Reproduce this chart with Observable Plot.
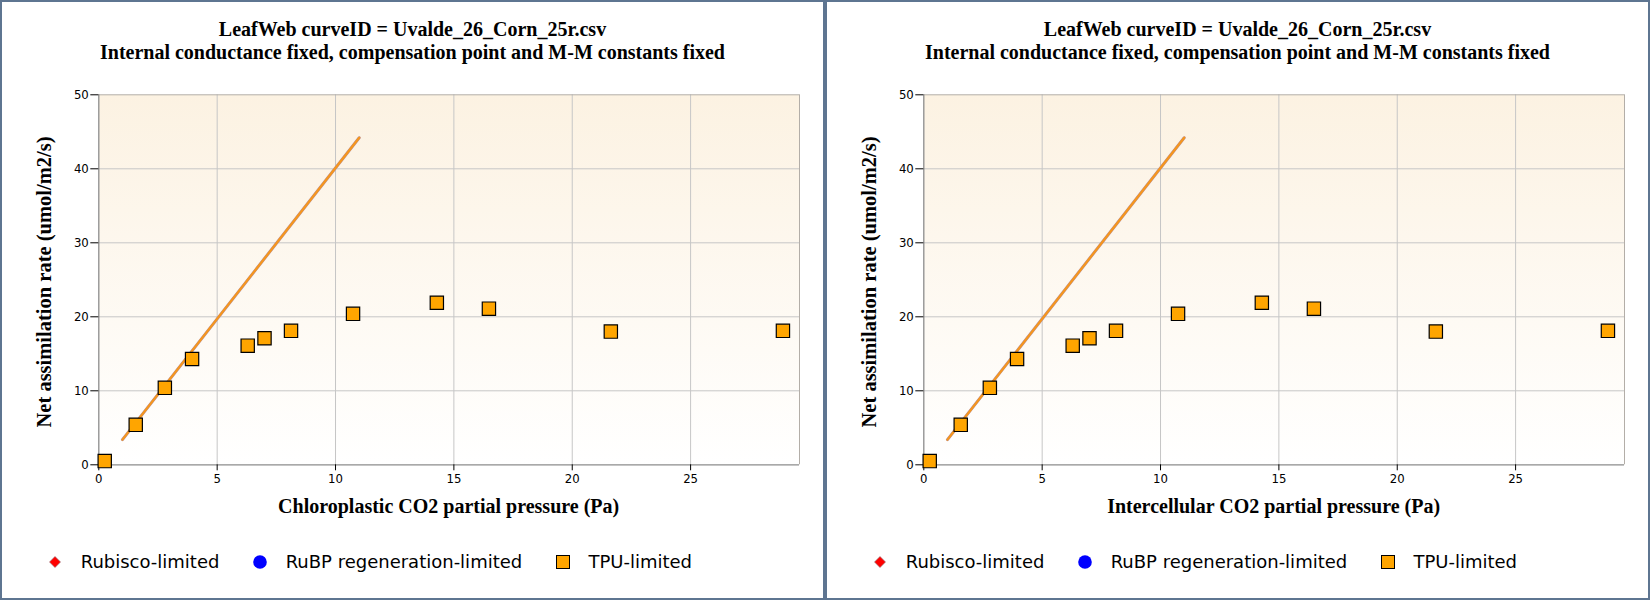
<!DOCTYPE html>
<html><head><meta charset="utf-8">
<script src="https://cdn.jsdelivr.net/npm/d3@7"></script>
<script src="https://cdn.jsdelivr.net/npm/@observablehq/plot@0.6"></script>
<style>
html,body{margin:0;padding:0;background:#fff;}
#wrap{position:relative;width:1650px;height:600px;display:flex;}
.panel{position:relative;width:825px;height:600px;box-sizing:border-box;border:2px solid #5e7591;overflow:hidden;background:#fff;}
.title{position:absolute;left:0;right:0;top:15.5px;text-align:center;font:bold 20px/23px "Liberation Serif",serif;color:#000;}
.xtitle{position:absolute;left:96.3px;width:700.7px;top:492.7px;text-align:center;font:bold 20px/23px "Liberation Serif",serif;color:#000;white-space:nowrap;}
.ytitle{position:absolute;left:42px;top:279.5px;transform:translate(-50%,-50%) rotate(-90deg);white-space:nowrap;font:bold 20.5px/23px "Liberation Serif",serif;color:#000;}
.plotbox{position:absolute;left:0;top:0;}
.legend{position:absolute;top:547.7px;left:46px;display:flex;align-items:center;font:18px/24px "DejaVu Sans",sans-serif;color:#000;white-space:nowrap;}
.legend svg{display:block;flex:none;}
</style>
</head><body>
<div id="wrap"></div>
<script>
// ---- data ----
const ciValues = [0.25, 1.56, 2.79, 3.94, 6.29, 7.0, 8.12, 10.74, 14.28, 16.48, 21.63, 28.9];
const anValues = [0.5, 5.4, 10.4, 14.3, 16.1, 17.1, 18.1, 20.4, 21.9, 21.1, 18.0, 18.1];
const fitX = [1.0, 11.0];
const fitY = [3.4, 44.2];
const xTicks = [0, 5, 10, 15, 20, 25];
const yTicks = [0, 10, 20, 30, 40, 50];
const xGrid = [5, 10, 15, 20, 25];
const yGrid = [10, 20, 30, 40];
const xMax = 29.6, yMax = 50;
const titleLines = ["LeafWeb curveID = Uvalde_26_Corn_25r.csv", "Internal conductance fixed, compensation point and M-M constants fixed"];
const xTitles = ["Chloroplastic CO2 partial pressure (Pa)", "Intercellular CO2 partial pressure (Pa)"];
const yTitle = "Net assimilation rate (umol/m2/s)";
const legendLabels = ["Rubisco-limited", "RuBP regeneration-limited", "TPU-limited"];

const points = ciValues.map((x, i) => ({x, y: anValues[i]}));
const fit = fitX.map((x, i) => ({x, y: fitY[i]}));

function makePlot(gid) {
  const svg = Plot.plot({
    width: 821, height: 500,
    marginLeft: 96.3, marginTop: 92.3, marginRight: 24, marginBottom: 37.7,
    x: {domain: [0, xMax]},
    y: {domain: [0, yMax]},
    style: {background: "transparent", fontFamily: "'DejaVu Sans Condensed','DejaVu Sans',sans-serif", fontSize: "13px", color: "#000", overflow: "visible"},
    marks: [
      Plot.frame({fill: `url(#${gid})`, stroke: null}),
      Plot.gridX(xGrid, {stroke: "#c6c6c6", strokeOpacity: 1}),
      Plot.gridY(yGrid, {stroke: "#c6c6c6", strokeOpacity: 1}),
      Plot.ruleY([yMax], {stroke: "#b3aea8"}),
      Plot.ruleX([xMax], {stroke: "#b3aea8"}),
      Plot.ruleX([0], {stroke: "#8c8c8c", strokeWidth: 1.3}),
      Plot.ruleY([0], {stroke: "#8c8c8c", strokeWidth: 1.3}),
      Plot.axisX({ticks: xTicks, tickSize: 6, tickPadding: 3, label: null, tickFormat: d => String(d)}),
      Plot.axisY({ticks: yTicks, tickSize: 8, tickPadding: 2, label: null, tickFormat: d => String(d)}),
      Plot.line(fit, {x: "x", y: "y", stroke: "#b8929c", strokeWidth: 3}),
      Plot.line(fit, {x: "x", y: "y", stroke: "#f5961e", strokeWidth: 2.2}),
      Plot.dot(points, {x: "x", y: "y", symbol: "square", r: 7.5, fill: "#ffa500", stroke: "#000", strokeWidth: 1.2})
    ]
  });
  const ns = "http://www.w3.org/2000/svg";
  const defs = document.createElementNS(ns, "defs");
  defs.innerHTML = `<linearGradient id="${gid}" x1="0" y1="0" x2="0" y2="1"><stop offset="0" stop-color="#fcf2e2"/><stop offset="1" stop-color="#ffffff"/></linearGradient>`;
  svg.insertBefore(defs, svg.firstChild);
  return svg;
}

function legendItem(kind, label, gapBefore) {
  const item = document.createElement("div");
  item.style.display = "flex";
  item.style.alignItems = "center";
  item.style.marginLeft = gapBefore + "px";
  let shape;
  if (kind === 0) shape = `<path d="M7,1.5 L12.5,7 L7,12.5 L1.5,7 Z" fill="#f00" stroke="#8a6a70" stroke-width="0.6"/>`;
  else if (kind === 1) shape = `<circle cx="7" cy="7" r="6.8" fill="#0000ff"/>`;
  else shape = `<rect x="0.5" y="0.5" width="13" height="13" fill="#ffa500" stroke="#000" stroke-width="1"/>`;
  item.innerHTML = `<svg width="14" height="14" viewBox="0 0 14 14">${shape}</svg><span style="margin-left:18.7px">${label}</span>`;
  return item;
}

const wrap = document.getElementById("wrap");
[0, 1].forEach(p => {
  const panel = document.createElement("div");
  panel.className = "panel";
  const box = document.createElement("div");
  box.className = "plotbox";
  box.appendChild(makePlot("bg" + p));
  panel.appendChild(box);
  const t = document.createElement("div");
  t.className = "title";
  t.innerHTML = titleLines.map(s => `<div>${s}</div>`).join("");
  panel.appendChild(t);
  const xt = document.createElement("div");
  xt.className = "xtitle";
  xt.textContent = xTitles[p];
  panel.appendChild(xt);
  const yt = document.createElement("div");
  yt.className = "ytitle";
  yt.textContent = yTitle;
  panel.appendChild(yt);
  const lg = document.createElement("div");
  lg.className = "legend";
  legendLabels.forEach((l, i) => lg.appendChild(legendItem(i, l, i === 0 ? 0 : 33.5)));
  panel.appendChild(lg);
  wrap.appendChild(panel);
});
</script>
</body></html>
